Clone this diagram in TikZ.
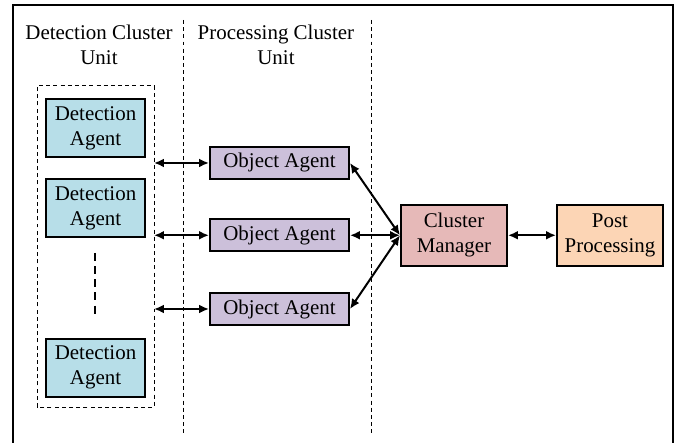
\documentclass[tikz,border=0pt]{standalone}
\usepackage{fontspec}
\setmainfont{Liberation Serif}
\definecolor{detblue}{RGB}{183, 222, 232}
\definecolor{objpurple}{RGB}{204, 192, 218}
\definecolor{mgrred}{RGB}{230, 185, 184}
\definecolor{postorange}{RGB}{252, 213, 181}
\usetikzlibrary{arrows.meta, positioning, calc}

\begin{document}
\begin{tikzpicture}[
    font=\fontsize{10.5}{12.5}\selectfont,
    agentbox/.style={draw, line width=1pt, inner sep=0pt, align=center},
    detbox/.style={agentbox, fill=detblue, minimum width=1.744cm, minimum height=1.022cm},
    objbox/.style={agentbox, fill=objpurple, minimum width=2.449cm, minimum height=0.564cm},
    mgrbox/.style={agentbox, minimum width=1.868cm, minimum height=1.075cm},
    link/.style={{Latex[length=5pt,width=4.5pt]}-{Latex[length=5pt,width=4.5pt]}, line width=1pt},
    divider/.style={dash pattern=on 2pt off 1.6pt, line width=0.5pt}
  ]
  \useasboundingbox (0, 0) rectangle (12, 7.806);

  % Outer frame (open at the bottom)
  \draw[line width=1pt] (0.229, 0) -- (0.229, 7.718) -- (11.859, 7.718) -- (11.859, 0);

  % Unit dividers
  \draw[divider] (3.225, 7.454) -- (3.225, 0.141);
  \draw[divider] (6.555, 7.454) -- (6.555, 0.141);

  % Headers
  \node[align=center] (dethead) at (1.744, 7.013) {Detection Cluster\\Unit};
  \node[align=center] (prochead) at (4.863, 7.013) {Processing Cluster\\Unit};

  % Detection cluster
  \draw[divider] (0.652, 0.634) rectangle (2.714, 6.291);
  \coordinate (dbox) at (2.714, 3.46);
  \node[detbox] (da1) at (1.683, 5.551) {Detection\\Agent};
  \node[detbox] (da2) at (1.683, 4.141) {Detection\\Agent};
  \node[detbox] (da3) at (1.683, 1.330) {Detection\\Agent};
  \coordinate (gaptop) at (1.674, 3.348);
  \coordinate (gapbot) at (1.674, 2.238);
  \draw[line width=1pt, dash pattern=on 4pt off 2.6pt] (gaptop) -- (gapbot);

  % Object agents
  \node[objbox] (oa1) at (4.925, 4.934) {Object Agent};
  \node[objbox] (oa2) at (4.925, 3.660) {Object Agent};
  \node[objbox] (oa3) at (4.925, 2.361) {Object Agent};

  % Manager and post processing
  \node[mgrbox, fill=mgrred] (cm) at (8.000, 3.660) {Cluster\\Manager};
  \node[mgrbox, fill=postorange] (pp) at (10.749, 3.660) {Post\\Processing};

  % Links
  \foreach \o in {oa1, oa2, oa3} {
    \draw[link] (\o.west -| dbox) -- (\o.west);
    \draw[link] (\o.east) -- (cm.west);
  }
  \draw[link] (cm) -- (pp);
\end{tikzpicture}
\end{document}
